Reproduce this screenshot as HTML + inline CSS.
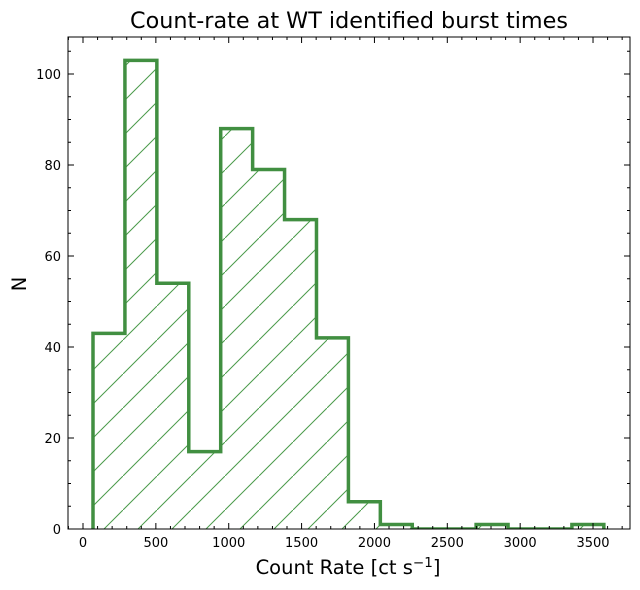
<!DOCTYPE html>
<html><head><style>body{margin:0;background:#fff}svg{display:block;font-family:"DejaVu Sans","Liberation Sans",sans-serif}</style></head>
<body>
<svg width="640" height="590" viewBox="0 0 640 590" xmlns="http://www.w3.org/2000/svg">
<defs>
<pattern id="h" patternUnits="userSpaceOnUse" x="21" y="0" width="34" height="34">
<line x1="-1" y1="35" x2="35" y2="-1" stroke="#4a9a4a" stroke-width="1"/>
</pattern>
<clipPath id="c"><rect x="68" y="37" width="562" height="492"/></clipPath>
</defs>
<text x="349" y="28" font-size="22.3" text-anchor="middle">Count-rate at WT identified burst times</text>
<g id="plot"></g>
<rect x="68" y="37" width="562" height="492" fill="none" stroke="#000" stroke-width="1"/>
<g id="ticks" stroke="#000" stroke-width="1"></g>
<g id="labels" font-size="13" fill="#000"></g>
<text x="348" y="574" font-size="19.5" text-anchor="middle">Count Rate [ct s<tspan dy="-7" font-size="13.5">−1</tspan><tspan dy="7">]</tspan></text>
<text x="26" y="284" font-size="19.5" text-anchor="middle" transform="rotate(-90 26 284)">N</text>
<script>
var counts=[43,103,54,17,88,79,68,42,6,1,0,0,1,0,0,1];
function X(v){return 83+v*0.14572;}function Y(v){return 529-v*4.55;}
var e0=68.6,w=219.1;var d="M"+X(e0)+","+Y(0);
for(var i=0;i<16;i++){d+=" L"+X(e0+i*w)+","+Y(counts[i])+" L"+X(e0+(i+1)*w)+","+Y(counts[i]);}
d+=" L"+X(e0+16*w)+","+Y(0);
var ns="http://www.w3.org/2000/svg",g=document.getElementById("plot");
var p=document.createElementNS(ns,"path");p.setAttribute("d",d+" Z");p.setAttribute("fill","url(#h)");p.setAttribute("clip-path","url(#c)");g.appendChild(p);
var p2=document.createElementNS(ns,"path");p2.setAttribute("d",d);p2.setAttribute("fill","none");p2.setAttribute("stroke","#418f41");p2.setAttribute("stroke-width","3.5");p2.setAttribute("clip-path","url(#c)");g.appendChild(p2);
var t=document.getElementById("ticks"),l=document.getElementById("labels"),s="";
function lab(x,y,a,txt){var e=document.createElementNS(ns,"text");e.setAttribute("x",x);e.setAttribute("y",y);e.setAttribute("text-anchor",a);e.textContent=txt;l.appendChild(e);}
for(var v=-100;v<=3700;v+=100){var x=X(v);if(x<68||x>630)continue;var L=(v%500==0)?6:3;
s+="M"+x+",529v-"+L+"M"+x+",37v"+L;
if(v%500==0)lab(x,547,"middle",String(v));}
for(var v=0;v<=105;v+=5){var y=Y(v);if(y<37)continue;var L=(v%20==0)?6:3;
s+="M68,"+y+"h"+L+"M630,"+y+"h-"+L;
if(v%20==0)lab(61,y+5,"end",String(v));}
var tp=document.createElementNS(ns,"path");tp.setAttribute("d",s);t.appendChild(tp);
</script>
</svg>
</body></html>
